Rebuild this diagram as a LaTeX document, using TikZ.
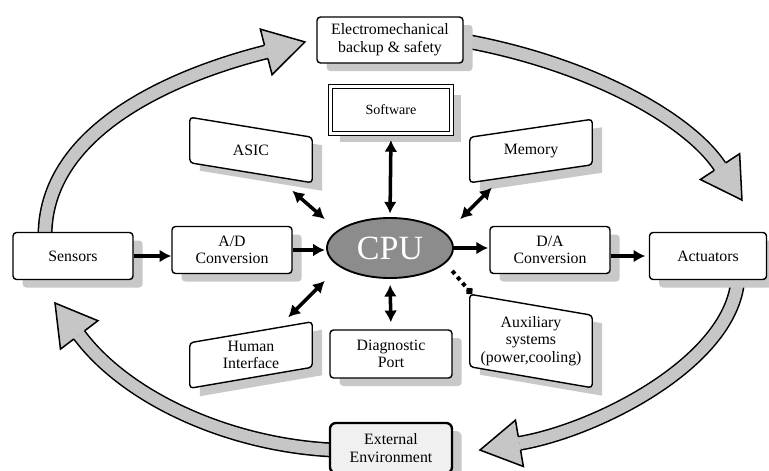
\documentclass[tikz,border=0pt]{standalone}
\usepackage{fontspec}
\setmainfont{Liberation Serif}
\usetikzlibrary{arrows.meta,shapes.geometric,shadows,backgrounds}
\definecolor{cpugray}{RGB}{140,140,140}
\definecolor{bandgray}{RGB}{198,198,198}
\definecolor{shadegray}{RGB}{200,200,200}
\tikzset{
  box/.style={draw, line width=1.2pt, rounded corners=3pt, fill=white, align=center,
    inner sep=1pt, minimum width=3.6cm, minimum height=1.41cm,
    font=\fontsize{13.5}{15}\selectfont,
    drop shadow={shadow xshift=0.29cm, shadow yshift=-0.24cm, fill=shadegray, opacity=1}},
  soft/.style={box, rounded corners=0pt, double, double distance=1.8pt, line width=1.1pt,
    minimum width=3.63cm, minimum height=1.41cm, font=\fontsize{12}{14}\selectfont},
  ext/.style={line width=2pt, fill=gray!12, rounded corners=5pt,
    minimum width=3.66cm, minimum height=1.5cm},
  cpu/.style={ellipse, draw, line width=1.6pt, fill=cpugray, text=white, inner sep=0pt,
    minimum width=3.78cm, minimum height=1.8cm, font=\fontsize{29}{30}\selectfont},
  sltext/.style={align=center, inner sep=0pt, minimum width=3.66cm, minimum height=1.35cm,
    font=\fontsize{13.5}{15}\selectfont},
  slline/.style={line width=1.2pt, rounded corners=3pt, fill=white},
  link/.style={line width=3.2pt, -{Latex[length=10pt,width=11pt]}},
  dlink/.style={line width=3pt, {Latex[length=10pt,width=11pt]}-{Latex[length=10pt,width=11pt]}},
  dotlink/.style={line width=3.4pt, dash pattern=on 3.4pt off 3.4pt, -{Circle[length=6pt]}},
  band/.style={line width=1.3pt, double=bandgray, double distance=10.2pt}
}
% slanted box round a text node: #1 node, #2 drop of the right side
\newcommand\slbox[2]{%
  \begin{scope}[on background layer]
  \fill[shadegray] ([shift={(10,{8-(#2)})}]#1.north west) -- ([shift={(10,{8+(#2)})}]#1.north east)
    -- ([shift={(10,{8+(#2)})}]#1.south east) -- ([shift={(10,{8-(#2)})}]#1.south west) -- cycle;
  \draw[slline] ([shift={(0,{-(#2)})}]#1.north west) -- ([shift={(0,#2)}]#1.north east)
    -- ([shift={(0,#2)}]#1.south east) -- ([shift={(0,{-(#2)})}]#1.south west) -- cycle;
  \end{scope}}
% head of a band
\newcommand\bighead[2]{%
  \begin{scope}[shift={#1}, rotate=#2]
  \fill[bandgray] (0,6.8) -- (0,23.5) -- (40,0) -- (0,-23.5) -- (0,-6.8) -- cycle;
  \draw[line width=1.3pt] (0,6.8) -- (0,23.5) -- (40,0) -- (0,-23.5) -- (0,-6.8);
  \end{scope}}
\begin{document}
\begin{tikzpicture}[x=0.03cm, y=-0.03cm]
\useasboundingbox (0,0) rectangle (769,470);
%boxes
\node[box, minimum width=4.38cm, minimum height=1.38cm] (emech) at (390,40) {Electromechanical\\backup \& safety};
\node[soft] (soft) at (391,110) {Software};
\node[box] (sens) at (73,256) {Sensors};
\node[box] (adc) at (232,250) {A/D\\Conversion};
\node[cpu] (cpu) at (390,248) {CPU};
\node[box] (dac) at (550,250) {D/A\\Conversion};
\node[box, minimum width=3.51cm] (act) at (708,256) {Actuators};
\node[box, minimum width=3.66cm, minimum height=1.44cm] (diag) at (391,354) {Diagnostic\\Port};
\node[box, ext] (ext) at (391,448) {External\\Environment};
%slanted boxes
\node[sltext] (asic) at (251,150) {ASIC};
\node[sltext] (mem) at (531,151) {Memory};
\node[sltext] (hum) at (251,355) {Human\\Interface};
\node[sltext, minimum height=2.16cm] (aux) at (531,341) {Auxiliary\\systems\\(power,cooling)};
\slbox{asic}{10}
\slbox{mem}{-9}
\slbox{hum}{-10.5}
\slbox{aux}{10.5}
%links
\draw[link] (sens.east) -- (sens.east -| adc.west);
\draw[link, shorten >=1pt] (adc.east) -- (adc.east -| cpu.west);
\draw[link, shorten >=1pt] (cpu.east) -- (cpu.east -| dac.west);
\draw[link, shorten >=3pt] (act.west -| dac.east) -- (act.west);
\draw[dlink, shorten <=5pt, shorten >=3pt] (soft.south) -- (cpu.north);
\draw[dlink, shorten <=5pt, shorten >=6pt] (cpu.south) -- (diag.north);
\draw[dlink] ([shift={(-20,18)}]asic.south east) -- ([shift={(-20,-7)}]cpu.north west);
\draw[dlink] ([shift={(22,14)}]mem.south west) -- ([shift={(25,-7)}]cpu.north east);
\draw[dlink] ([shift={(-24,-15)}]hum.north east) -- ([shift={(-20,11)}]cpu.south west);
\draw[dotlink] ([shift={(17,1)}]cpu.south east) -- ([shift={(2,-11)}]aux.north west);
%bands
\coordinate (h1) at (266.2,51.9);
\coordinate (h2) at (720,166.6);
\coordinate (h3) at (519.4,443.3);
\coordinate (h4) at (79.2,334.9);
\begin{scope}[on background layer]
\draw[band] ([shift={(-28,4)}]sens.north) .. controls (45,120) and (198,69) .. (h1);
\draw[band] ([shift={(-4,0)}]emech.east) .. controls (585,62) and (687,117) .. (h2);
\draw[band] ([shift={(30,-4)}]act.south) .. controls (735,360) and (598,430) .. (h3);
\draw[band] ([shift={(4,2)}]ext.west) .. controls (230,445) and (127,399) .. (h4);
\end{scope}
\bighead{(h1)}{14.4}
\bighead{(h2)}{-56.7}
\bighead{(h3)}{-170.3}
\bighead{(h4)}{127.2}
\end{tikzpicture}
\end{document}
